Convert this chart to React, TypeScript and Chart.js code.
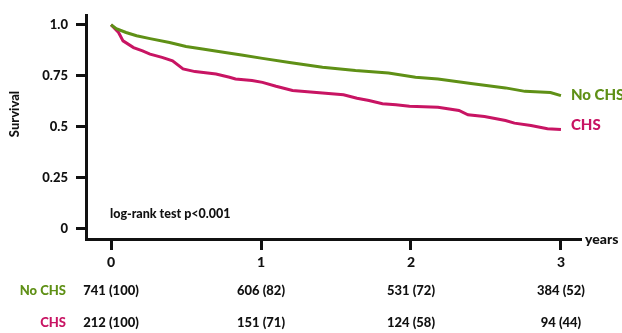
import React, { useEffect, useRef } from 'react';
import { Chart, registerables } from 'chart.js';

Chart.register(...registerables);

// Kaplan-Meier curves (time in years, survival proportion)
const NO_CHS_TIME = [0, 0.035, 0.1, 0.17, 0.26, 0.39, 0.5, 0.61, 0.76, 0.87, 1.01, 1.19, 1.41, 1.63, 1.85, 2.03, 2.18, 2.4, 2.63, 2.76, 2.93, 3.0];
const NO_CHS_SURV = [1.0, 0.981, 0.962, 0.946, 0.932, 0.913, 0.893, 0.881, 0.864, 0.851, 0.835, 0.815, 0.791, 0.775, 0.763, 0.742, 0.734, 0.712, 0.69, 0.673, 0.667, 0.652];
const CHS_TIME = [0, 0.05, 0.08, 0.15, 0.21, 0.26, 0.34, 0.41, 0.48, 0.56, 0.7, 0.79, 0.83, 0.94, 1.01, 1.1, 1.21, 1.41, 1.55, 1.64, 1.72, 1.81, 1.9, 1.99, 2.18, 2.32, 2.38, 2.49, 2.63, 2.69, 2.8, 2.91, 3.0];
const CHS_SURV = [1.0, 0.962, 0.921, 0.888, 0.872, 0.856, 0.84, 0.823, 0.783, 0.77, 0.758, 0.742, 0.734, 0.726, 0.717, 0.698, 0.677, 0.665, 0.656, 0.639, 0.628, 0.612, 0.607, 0.6, 0.595, 0.579, 0.558, 0.549, 0.53, 0.517, 0.505, 0.489, 0.486];

const X_TICKS = [0, 1, 2, 3];
const Y_TICKS = [0, 0.25, 0.5, 0.75, 1.0];
const Y_TICK_LABELS = ['0', '0.25', '0.5', '0.75', '1.0'];

const GROUPS = ['No CHS', 'CHS'];
const RISK_NO_CHS = ['741 (100)', '606 (82)', '531 (72)', '384 (52)'];
const RISK_CHS = ['212 (100)', '151 (71)', '124 (58)', '94 (44)'];

const GREEN = '#5f9016';
const RED = '#c81463';
const FONT = 'Lato, "Open Sans", sans-serif';
const W = '900';

export default function App() {
  const ref = useRef<HTMLCanvasElement>(null);

  useEffect(() => {
    if (!ref.current) return;
    const overlay = {
      id: 'overlay',
      afterDraw(chart: any) {
        const ctx = chart.ctx;
        const xs = chart.scales.x;
        const ys = chart.scales.y;
        const ca = chart.chartArea;
        ctx.save();
        // years label
        ctx.font = `${W} 14px ${FONT}`;
        ctx.fillStyle = '#111';
        ctx.textAlign = 'left';
        ctx.textBaseline = 'middle';
        ctx.fillText('years', ca.right + 5, ca.bottom);
        // series labels
        ctx.font = `${W} 15px ${FONT}`;
        const lastX = xs.getPixelForValue(3) + 10;
        ctx.fillStyle = GREEN;
        ctx.fillText(GROUPS[0], lastX, ys.getPixelForValue(NO_CHS_SURV[NO_CHS_SURV.length - 1]));
        ctx.fillStyle = RED;
        ctx.fillText(GROUPS[1], lastX, ys.getPixelForValue(CHS_SURV[CHS_SURV.length - 1]) - 4);
        // log-rank
        ctx.font = `${W} 12.5px ${FONT}`;
        ctx.fillStyle = '#111';
        ctx.fillText('log-rank test p<0.001', xs.getPixelForValue(0) - 1, ys.getPixelForValue(0) - 14);
        // y title
        ctx.save();
        ctx.translate(15, 114);
        ctx.rotate(-Math.PI / 2);
        ctx.textAlign = 'center';
        ctx.font = `${W} 13px ${FONT}`;
        ctx.fillText('Survival', 0, 0);
        ctx.restore();
        // risk table
        const rows = [RISK_NO_CHS, RISK_CHS];
        const rowY = [291, 323];
        const colors = [GREEN, RED];
        rows.forEach((row, r) => {
          ctx.font = `${W} 13px ${FONT}`;
          ctx.textAlign = 'right';
          ctx.fillStyle = colors[r];
          ctx.fillText(GROUPS[r], 66, rowY[r]);
          ctx.textAlign = 'center';
          ctx.fillStyle = '#111';
          row.forEach((txt, i) => {
            ctx.fillText(txt, xs.getPixelForValue(X_TICKS[i]), rowY[r]);
          });
        });
        ctx.restore();
      },
    };

    const chart = new Chart(ref.current, {
      type: 'line',
      data: {
        datasets: [
          {
            label: GROUPS[0],
            data: NO_CHS_TIME.map((t, i) => ({ x: t, y: NO_CHS_SURV[i] })),
            borderColor: GREEN,
            borderWidth: 3,
            pointRadius: 0,
            tension: 0,
            fill: false,
          },
          {
            label: GROUPS[1],
            data: CHS_TIME.map((t, i) => ({ x: t, y: CHS_SURV[i] })),
            borderColor: RED,
            borderWidth: 3,
            pointRadius: 0,
            tension: 0,
            fill: false,
          },
        ],
      },
      options: {
        animation: false,
        responsive: false,
        maintainAspectRatio: false,
        layout: { padding: { top: 15, right: 42, left: 0, bottom: 0 } },
        plugins: { legend: { display: false }, tooltip: { enabled: false } },
        scales: {
          x: {
            type: 'linear',
            min: -0.167,
            max: 3.127,
            afterFit: (s: any) => { s.height = 94; },
            afterBuildTicks: (s: any) => { s.ticks = X_TICKS.map((v) => ({ value: v })); },
            grid: { drawOnChartArea: false, drawTicks: true, tickLength: 11, color: '#111', lineWidth: 3 },
            border: { display: true, color: '#111', width: 3 },
            ticks: {
              padding: 4,
              color: '#111',
              font: { family: FONT, weight: W, size: 14 },
              callback: (v: any) => String(v),
            },
          },
          y: {
            type: 'linear',
            min: -0.052,
            max: 1.044,
            afterFit: (s: any) => { s.width = 86; },
            afterBuildTicks: (s: any) => { s.ticks = Y_TICKS.map((v) => ({ value: v })); },
            grid: { drawOnChartArea: false, drawTicks: true, tickLength: 10, color: '#111', lineWidth: 3 },
            border: { display: true, color: '#111', width: 3 },
            ticks: {
              padding: 8,
              color: '#111',
              font: { family: FONT, weight: W, size: 13 },
              callback: (v: any) => Y_TICK_LABELS[Y_TICKS.indexOf(Number(v))],
            },
          },
        },
      },
      plugins: [overlay],
    } as any);
    return () => chart.destroy();
  }, []);

  return (
    <div style={{ position: 'fixed', left: 0, top: 0, width: 622, height: 333, background: '#fff' }}>
      <canvas ref={ref} width={622} height={333} />
    </div>
  );
}
